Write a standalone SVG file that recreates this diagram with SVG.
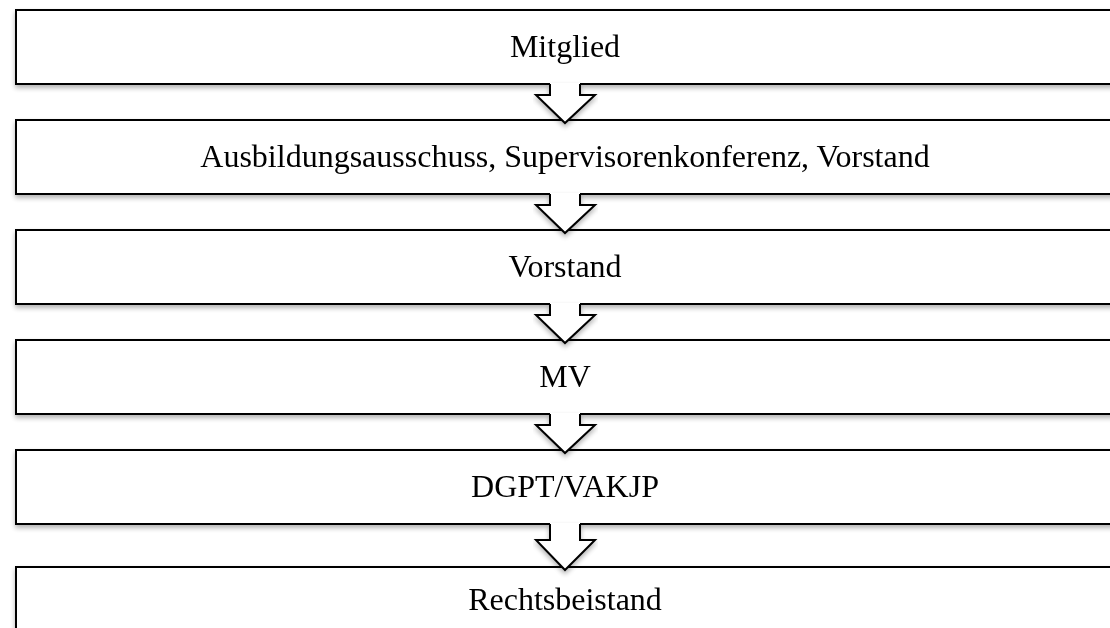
<svg xmlns="http://www.w3.org/2000/svg" width="1110" height="628" viewBox="0 0 1110 628">
<defs>
<filter id="sh" x="-5%" y="-20%" width="110%" height="150%">
<feGaussianBlur in="SourceAlpha" stdDeviation="2.5"/>
<feOffset dx="0" dy="3" result="b"/>
<feComponentTransfer><feFuncA type="linear" slope="0.3"/></feComponentTransfer>
<feMerge><feMergeNode/><feMergeNode in="SourceGraphic"/></feMerge>
</filter>
</defs>
<style>
.box{fill:#fff;stroke:#000;stroke-width:2}
.lbl{font-family:"Liberation Serif","Times New Roman",serif;font-size:32px;fill:#000;text-anchor:middle}
.af{fill:#fff;stroke:none}
.as{fill:none;stroke:#000;stroke-width:2;stroke-linejoin:miter}
</style>
<rect width="1110" height="628" fill="#fff"/>
<g id="n1" filter="url(#sh)"><rect class="box" x="16" y="10" width="1110" height="74"/><text class="lbl" x="565" y="57">Mitglied</text></g>
<g id="n2" filter="url(#sh)"><rect class="box" x="16" y="120" width="1110" height="74"/><text class="lbl" x="565" y="167">Ausbildungsausschuss, Supervisorenkonferenz, Vorstand</text></g>
<g id="n3" filter="url(#sh)"><rect class="box" x="16" y="230" width="1110" height="74"/><text class="lbl" x="565" y="277">Vorstand</text></g>
<g id="n4" filter="url(#sh)"><rect class="box" x="16" y="340" width="1110" height="74"/><text class="lbl" x="565" y="387">MV</text></g>
<g id="n5" filter="url(#sh)"><rect class="box" x="16" y="450" width="1110" height="74"/><text class="lbl" x="565" y="497">DGPT/VAKJP</text></g>
<g id="n6" filter="url(#sh)"><rect class="box" x="16" y="567" width="1110" height="74"/><text class="lbl" x="565" y="610">Rechtsbeistand</text></g>
<g id="connectors">
<g filter="url(#sh)"><path class="af" d="M550,83 V95 H536 L565,123 L595,95 H580 V83 Z"/><path class="as" d="M550,84 V95 H536 L565,123 L595,95 H580 V84"/></g>
<g filter="url(#sh)"><path class="af" d="M550,193 V205 H536 L565,233 L595,205 H580 V193 Z"/><path class="as" d="M550,194 V205 H536 L565,233 L595,205 H580 V194"/></g>
<g filter="url(#sh)"><path class="af" d="M550,303 V315 H536 L565,343 L595,315 H580 V303 Z"/><path class="as" d="M550,304 V315 H536 L565,343 L595,315 H580 V304"/></g>
<g filter="url(#sh)"><path class="af" d="M550,413 V425 H536 L565,453 L595,425 H580 V413 Z"/><path class="as" d="M550,414 V425 H536 L565,453 L595,425 H580 V414"/></g>
<g filter="url(#sh)"><path class="af" d="M550,523 V540 H536 L565,570 L595,540 H580 V523 Z"/><path class="as" d="M550,524 V540 H536 L565,570 L595,540 H580 V524"/></g>
</g>
</svg>
